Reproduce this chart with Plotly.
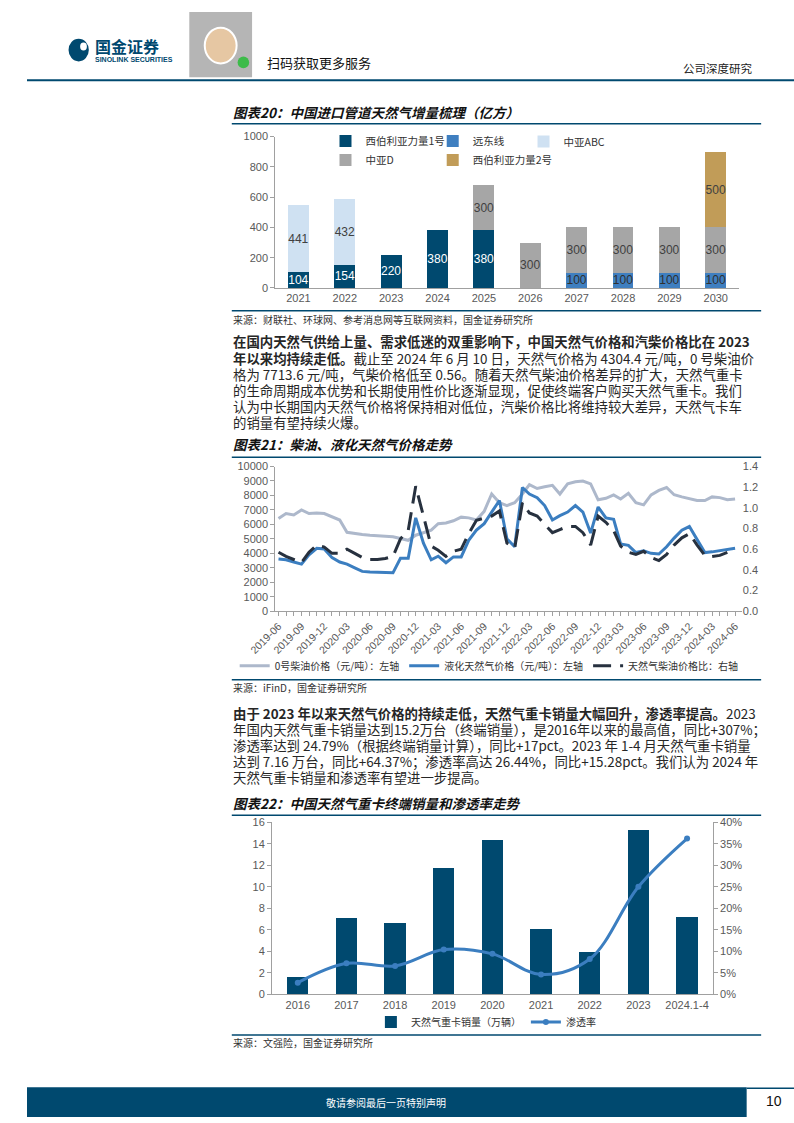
import plotly.graph_objects as go
import pandas as pd

W, H = 794, 1123
def px(x):
    return x / W
def py(y):
    return 1 - y / H

NAVY = '#00496f'
GRAY_AX = '#a0a0a0'
TICK_C = '#595959'
CJK = 'Noto Sans CJK SC'
LAT = 'Liberation Sans, Arial'

# ---------------- Chart 20 data ----------------
years20 = ['2021', '2022', '2023', '2024', '2025', '2026', '2027', '2028', '2029', '2030']
siberia1 = [104, 154, 220, 380, 380, None, None, None, None, None]
fareast = [None, None, None, None, None, None, 100, 100, 100, 100]
central_abc = [441, 432, None, None, None, None, None, None, None, None]
central_d = [None, None, None, None, 300, 300, 300, 300, 300, 300]
siberia2 = [None, None, None, None, None, None, None, None, None, 500]

# ---------------- Chart 21 data ----------------
months21 = pd.date_range('2019-06-01', '2024-06-01', freq='MS').strftime('%Y-%m-%d').tolist()
diesel = [6400, 6750, 6650, 7000, 6750, 6780, 6750, 6550, 6300, 5450,
          5350, 5300, 5250, 5200, 5180, 5150, 5050, 4900, 5250, 5450,
          5600, 6050, 6100, 6250, 6500, 6450, 6300, 6900, 8100, 7500,
          7300, 7500, 8100, 8750, 8480, 8600, 8700, 8100, 8800, 8950,
          9000, 8800, 7700, 7800, 8040, 7760, 8150, 7500, 7350, 8040,
          8350, 8550, 8050, 7900, 7800, 7650, 7650, 7900, 7850, 7700, 7750]
lng = [3600, 3550, 3400, 3250, 3900, 4350, 4300, 3700, 3400, 3250,
       3000, 2750, 2700, 2700, 2700, 2650, 3650, 3650, 6450, 4700,
       3550, 3800, 3350, 3750, 3750, 4900, 5600, 6050, 6850, 7650,
       5000, 4450, 8550, 8100, 7850, 7300, 6300, 6600, 6850, 7300,
       6850, 5400, 7200, 6450, 6350, 4650, 4550, 4050, 4170, 4000,
       3950, 4450, 5050, 5600, 5850, 4950, 4050, 4100, 4200, 4300, 4350]
ratio = [0.57, 0.53, 0.50, 0.47, 0.57, 0.64, 0.62, 0.56, 0.56, 0.60,
         0.56, 0.52, 0.50, 0.50, 0.51, 0.53, 0.70, 0.78, 1.21, 0.92,
         0.63, 0.59, 0.53, 0.58, 0.60, 0.75, 0.88, 0.90, 0.92, 0.97,
         0.66, 0.61, 1.05, 0.95, 0.92, 0.84, 0.76, 0.79, 0.82, 0.82,
         0.76, 0.64, 0.92, 0.86, 0.78, 0.63, 0.57, 0.55, 0.58, 0.52,
         0.49, 0.55, 0.64, 0.71, 0.75, 0.64, 0.54, 0.53, 0.54, 0.57, None]

# ---------------- Chart 22 data ----------------
years22 = ['2016', '2017', '2018', '2019', '2020', '2021', '2022', '2023', '2024.1-4']
sales22 = [1.6, 7.1, 6.6, 11.7, 14.3, 6.1, 3.9, 15.3, 7.2]
pen22 = [0.027, 0.072, 0.066, 0.104, 0.094, 0.046, 0.082, 0.250, 0.362]

fig = go.Figure()

# Chart 20 bars (legend columns: col1 / col2 / col3)
bar_specs = [
    ('西伯利亚力量1号', siberia1, NAVY, 'white', 'legend'),
    ('远东线', fareast, '#3f7fc0', '#303030', 'legend2'),
    ('中亚ABC', central_abc, '#cfe1f2', '#404040', 'legend5'),
    ('中亚D', central_d, '#a6a6a6', '#404040', 'legend'),
    ('西伯利亚力量2号', siberia2, '#c19c58', '#404040', 'legend2'),
]
for name, vals, col, tcol, lg in bar_specs:
    fig.add_trace(go.Bar(
        x=years20, y=vals, name=name, marker=dict(color=col, line=dict(width=0)),
        width=0.45, xaxis='x', yaxis='y', legend=lg,
        texttemplate='%{y}', textposition='inside', insidetextanchor='middle',
        textangle=0, constraintext='none',
        textfont=dict(family=LAT, size=12, color=tcol),
        hoverinfo='skip'))

# Chart 21 lines
fig.add_trace(go.Scatter(x=months21, y=diesel, name='0号柴油价格（元/吨）：左轴',
                         mode='lines', line=dict(color='#adb8cb', width=3),
                         xaxis='x2', yaxis='y2', legend='legend3'))
fig.add_trace(go.Scatter(x=months21, y=lng, name='液化天然气价格（元/吨）：左轴',
                         mode='lines', line=dict(color='#3b7ec0', width=3),
                         xaxis='x2', yaxis='y2', legend='legend3'))
fig.add_trace(go.Scatter(x=months21, y=ratio, name='天然气柴油价格比：右轴',
                         mode='lines', line=dict(color='#27313f', width=3, dash='18px,9px'),
                         xaxis='x2', yaxis='y3', legend='legend3'))

# Chart 22
fig.add_trace(go.Bar(x=years22, y=sales22, name='天然气重卡销量（万辆）',
                     marker=dict(color=NAVY, line=dict(width=0)), width=0.44,
                     xaxis='x3', yaxis='y4', legend='legend4'))
fig.add_trace(go.Scatter(x=years22, y=pen22, name='渗透率', mode='lines+markers',
                         line=dict(color='#3b7ec0', width=3, shape='spline', smoothing=1.0),
                         marker=dict(size=6, color='#3b7ec0'),
                         xaxis='x3', yaxis='y5', legend='legend4'))

tickfont = dict(family=LAT, size=11, color=TICK_C)
ax_common = dict(showgrid=False, zeroline=False, linecolor=GRAY_AX, linewidth=1,
                 tickfont=tickfont, tickcolor=GRAY_AX)

legfont = dict(family=CJK, size=10, color='#333333')
leg20font = dict(family=CJK, size=10.5, color='#333333')

def leg20(x, y, yanchor='middle'):
    return dict(x=px(x), y=py(y), xanchor='left', yanchor=yanchor, orientation='v',
                traceorder='normal', font=leg20font, bgcolor='rgba(0,0,0,0)',
                itemwidth=30, tracegroupgap=0)

fig.update_layout(
    width=W, height=H, margin=dict(l=0, r=0, t=0, b=0), autosize=False,
    paper_bgcolor='white', plot_bgcolor='white',
    barmode='stack', showlegend=True,
    xaxis=dict(domain=[px(257), px(737)], anchor='y', type='category',
               showline=True, ticks='', **ax_common),
    yaxis=dict(domain=[py(285), py(132)], anchor='x', range=[0, 1000], dtick=200,
               showline=True, ticks='outside', ticklen=4, **ax_common),
    xaxis2=dict(domain=[px(257), px(740)], anchor='y2', type='date',
                range=['2019-05-19', '2024-06-28'], tick0='2019-06-01', dtick='M3',
                tickformat='%Y-%m', tickangle=-45, showline=True, ticks='outside', ticklen=4,
                minor=dict(dtick='M1', tick0='2019-06-01', ticks='outside', ticklen=4, tickcolor=GRAY_AX),
                **{k: v for k, v in ax_common.items() if k != 'tickfont'},
                tickfont=dict(family=LAT, size=10.5, color=TICK_C)),
    yaxis2=dict(domain=[py(611.7), py(465.5)], anchor='x2', range=[0, 10000], dtick=1000,
                tickformat='d', showline=True, ticks='outside', ticklen=4, **ax_common),
    yaxis3=dict(overlaying='y2', anchor='x2', side='right', range=[0, 1.4], dtick=0.2,
                tickformat='.1f', showline=False, ticks='', **ax_common),
    xaxis3=dict(domain=[px(253.6), px(710)], anchor='y4', type='category',
                showline=True, ticks='', **ax_common),
    yaxis4=dict(domain=[py(999), py(825)], anchor='x3', range=[0, 16], dtick=2,
                showline=True, ticks='outside', ticklen=4, **ax_common),
    yaxis5=dict(overlaying='y4', anchor='x3', side='right', range=[0, 0.4], dtick=0.05,
                tickformat='.0%', showline=True, ticks='outside', ticklen=4, **ax_common),
    legend=leg20(309, 146),
    legend2=leg20(420, 146),
    legend5=leg20(514, 137),
    legend3=dict(x=px(215), y=py(667), xanchor='left', yanchor='middle', orientation='h',
                 traceorder='normal', font=legfont, bgcolor='rgba(0,0,0,0)', itemwidth=30),
    legend4=dict(x=px(356), y=py(1027), xanchor='left', yanchor='middle', orientation='h',
                 traceorder='normal', font=legfont, bgcolor='rgba(0,0,0,0)', itemwidth=30),
)

shapes = []
def hline(y, x0, x1, color=NAVY, width=1.5):
    shapes.append(dict(type='line', xref='paper', yref='paper', x0=px(x0), x1=px(x1),
                       y0=py(y), y1=py(y), line=dict(color=color, width=width)))

# header
hline(75, 0, 794, NAVY, 2)
shapes.append(dict(type='circle', xref='paper', yref='paper', x0=px(43), x1=px(64),
                   y0=py(56), y1=py(33), fillcolor=NAVY, line=dict(width=0)))
shapes.append(dict(type='circle', xref='paper', yref='paper', x0=px(55), x1=px(62),
                   y0=py(45), y1=py(37), fillcolor='white', line=dict(width=0)))
# QR code placeholder
shapes.append(dict(type='rect', xref='paper', yref='paper', x0=px(168), x1=px(233),
                   y0=py(72), y1=py(6), fillcolor='rgba(90,90,90,0.45)', line=dict(width=0)))
shapes.append(dict(type='circle', xref='paper', yref='paper', x0=px(184), x1=px(217),
                   y0=py(58), y1=py(22), fillcolor='#e6c7a3', line=dict(color='white', width=2)))
shapes.append(dict(type='circle', xref='paper', yref='paper', x0=px(218), x1=px(230),
                   y0=py(63), y1=py(51), fillcolor='#3dbb4a', line=dict(width=0)))

# chart separators
hline(119, 212, 760)
hline(308, 212, 760)
hline(456, 212, 760)
hline(681, 212, 760)
hline(818, 212, 760)
hline(1040, 212, 760)

# footer
shapes.append(dict(type='rect', xref='paper', yref='paper', x0=px(0), x1=px(745),
                   y0=py(1123), y1=py(1093), fillcolor=NAVY, line=dict(width=0)))
hline(1094, 745, 794, NAVY, 1.5)

fig.update_layout(shapes=shapes)

annots = []
def txt(x, y, s, size=14, color='#262626', anchor='left', family=CJK):
    annots.append(dict(xref='paper', yref='paper', x=px(x), y=py(y), text=s, showarrow=False,
                       xanchor=anchor, yanchor='middle', align='left',
                       font=dict(family=family, size=size, color=color)))

# header texts
txt(68, 40, '<b>国金证券</b>', 16, NAVY)
txt(68, 54, '<b>SINOLINK SECURITIES</b>', 7, NAVY, family=LAT)
txt(246, 57, '扫码获取更多服务', 13, '#111111')
txt(753, 63, '公司深度研究', 11.5, '#222222', anchor='right')

# chart 20 title & source
txt(211, 107, '<b><i>图表20：中国进口管道天然气增量梳理（亿方）</i></b>', 13.5, '#111111')
txt(211, 317, '来源：财联社、环球网、参考消息网等互联网资料，国金证券研究所', 10, '#333333')

PSIZE = 13.4
LH = 16.3

# paragraph 1
p1 = [
    '<b>在国内天然气供给上量、需求低迷的双重影响下，中国天然气价格和汽柴价格比在 2023</b>',
    '<b>年以来均持续走低。</b>截止至 2024 年 6 月 10 日，天然气价格为 4304.4 元/吨，0 号柴油价',
    '格为 7713.6 元/吨，气柴价格低至 0.56。随着天然气柴油价格差异的扩大，天然气重卡',
    '的生命周期成本优势和长期使用性价比逐渐显现，促使终端客户购买天然气重卡。我们',
    '认为中长期国内天然气价格将保持相对低位，汽柴价格比将维持较大差异，天然气卡车',
    '的销量有望持续火爆。',
]
for i, line in enumerate(p1):
    txt(211, 339 + i * LH, line, PSIZE)

txt(211, 443, '<b><i>图表21：柴油、液化天然气价格走势</i></b>', 13.5, '#111111')
txt(211, 689, '来源：iFinD，国金证券研究所', 10, '#333333')

p2 = [
    '<b>由于 2023 年以来天然气价格的持续走低，天然气重卡销量大幅回升，渗透率提高。</b>2023',
    '年国内天然气重卡销量达到15.2万台（终端销量），是2016年以来的最高值，同比+307%；',
    '渗透率达到 24.79%（根据终端销量计算），同比+17pct。2023 年 1-4 月天然气重卡销量',
    '达到 7.16 万台，同比+64.37%；渗透率高达 26.44%，同比+15.28pct。我们认为 2024 年',
    '天然气重卡销量和渗透率有望进一步提高。',
]
for i, line in enumerate(p2):
    txt(211, 714.5 + i * LH, line, PSIZE)

txt(211, 806, '<b><i>图表22：中国天然气重卡终端销量和渗透率走势</i></b>', 13.5, '#111111')
txt(211, 1048, '来源：文强险，国金证券研究所', 10, '#333333')

# footer
txt(372, 1108, '敬请参阅最后一页特别声明', 10, 'white', anchor='center')
txt(773, 1107, '10', 14, '#111111', anchor='center', family=LAT)

fig.update_layout(annotations=annots)

fig.write_html('out.html', config={'displayModeBar': False})
